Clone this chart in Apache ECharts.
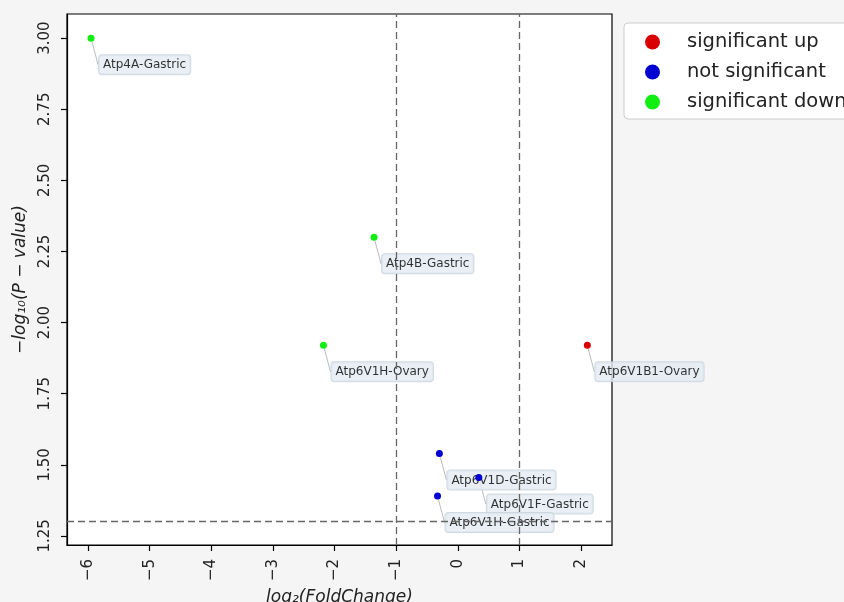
<!DOCTYPE html>
<html>
<head>
<meta charset="utf-8">
<script src="https://cdn.jsdelivr.net/npm/echarts@6/dist/echarts.min.js"></script>
<style>
html,body{margin:0;padding:0;background:#f5f5f5;}
#chart{width:844px;height:602px;}
</style>
</head>
<body>
<div id="chart"></div>
<script>
// ---- data ----
const genes = ['Atp4A-Gastric','Atp4B-Gastric','Atp6V1H-Ovary','Atp6V1B1-Ovary','Atp6V1D-Gastric','Atp6V1F-Gastric','Atp6V1H-Gastric'];
const log2FC = [-5.95, -1.36, -2.18, 2.10, -0.30, 0.34, -0.33];
const negLog10P = [3.00, 2.30, 1.92, 1.92, 1.54, 1.455, 1.39];
const groups = ['down','down','down','up','ns','ns','ns'];
const groupNames = {up:'significant up', ns:'not significant', down:'significant down'};
const groupColors = {up:'#d80000', ns:'#0000d0', down:'#11ee11'};
const xTicks = [-6,-5,-4,-3,-2,-1,0,1,2];
const yTicks = [1.25,1.50,1.75,2.00,2.25,2.50,2.75,3.00];
const vLines = [-1, 1];
const hLines = [1.301];

const FONT = 'DejaVu Sans';

function pointSeries(g){
  const data = [];
  genes.forEach((name,i)=>{
    if(groups[i]===g) data.push({name:name, value:[log2FC[i], negLog10P[i]]});
  });
  return {
    name: groupNames[g],
    type: 'scatter',
    symbol: 'circle',
    symbolSize: 7,
    itemStyle: {color: groupColors[g], opacity: 1},
    data: data,
    z: 5
  };
}

// invisible carriers for the annotation boxes, drawn beneath the points
const labelSeries = {
  name: 'annotations',
  type: 'scatter',
  symbol: 'circle',
  symbolSize: 7,
  silent: true,
  itemStyle: {color: 'rgba(0,0,0,0)'},
  data: genes.map((name,i)=>({name:name, value:[log2FC[i], negLog10P[i]]})),
  label: {
    show: true,
    formatter: p => p.name,
    position: [11.5, 20.5],
    fontFamily: FONT,
    fontSize: 12,
    color: '#000',
    lineHeight: 14,
    backgroundColor: '#e4ebf2',
    borderColor: '#c5d1dc',
    borderWidth: 1,
    borderRadius: 3,
    padding: [3, 4, 2, 4]
  },
  labelLine: {show: true, lineStyle: {color: '#bbbbbb', width: 1}},
  z: 2
};

const chart = echarts.init(document.getElementById('chart'), null, {renderer:'canvas'});
const option = {
  backgroundColor: '#f5f5f5',
  animation: false,
  grid: {left: 67, right: 232, top: 14, bottom: 57, outerBoundsMode: 'none', containLabel: false,
    show: true, backgroundColor: '#ffffff', borderColor: '#000', borderWidth: 1.2},
  legend: {
    orient: 'vertical',
    left: 624, top: 23,
    data: [groupNames.up, groupNames.ns, groupNames.down],
    icon: 'circle',
    itemWidth: 15, itemHeight: 15,
    itemGap: 10,
    padding: [9, 10, 7, 21],
    backgroundColor: '#ffffff',
    borderColor: '#cccccc',
    borderWidth: 1,
    borderRadius: 4,
    textStyle: {fontFamily: FONT, fontSize: 19.5, color: '#222', lineHeight: 20, padding: [0,0,0,22]}
  },
  xAxis: {
    type: 'value',
    min: -6.34, max: 2.5,
    name: 'log₂(FoldChange)',
    nameLocation: 'middle',
    nameGap: 42,
    nameTextStyle: {fontFamily: FONT, fontSize: 17, fontStyle: 'italic', color: '#222'},
    splitLine: {show: false},
    axisLine: {show: true, onZero: false, lineStyle: {color: '#000', width: 1.2}},
    axisTick: {show: true, length: 6, lineStyle: {color: '#000', width: 1.2}, customValues: xTicks},
    axisLabel: {customValues: xTicks, rotate: 90, margin: 14, fontFamily: FONT, fontSize: 15, color: '#222',
      formatter: v => String(v).replace('-', '\u2212')}
  },
  yAxis: {
    type: 'value',
    min: 1.218, max: 3.085,
    name: '\u2212log₁₀(P \u2212 value)',
    nameLocation: 'middle',
    nameGap: 38,
    nameTextStyle: {fontFamily: FONT, fontSize: 17, fontStyle: 'italic', color: '#222'},
    splitLine: {show: false},
    axisLine: {show: true, onZero: false, lineStyle: {color: '#000', width: 1.2}},
    axisTick: {show: true, length: 6, lineStyle: {color: '#000', width: 1.2}, customValues: yTicks},
    axisLabel: {customValues: yTicks, rotate: 90, margin: 14, fontFamily: FONT, fontSize: 15, color: '#222',
      formatter: v => v.toFixed(2)}
  },
  series: [
    labelSeries,
    {
      name: 'thresholds',
      type: 'line',
      data: [],
      silent: true,
      markLine: {
        silent: true,
        symbol: 'none',
        label: {show: false},
        lineStyle: {color: '#666', type: [7, 4], width: 1.3},
        data: vLines.map(v => ({xAxis: v})).concat(hLines.map(v => ({yAxis: v})))
      },
      z: 4
    },
    pointSeries('up'),
    pointSeries('ns'),
    pointSeries('down')
  ]
};
chart.setOption(option);
</script>
</body>
</html>
